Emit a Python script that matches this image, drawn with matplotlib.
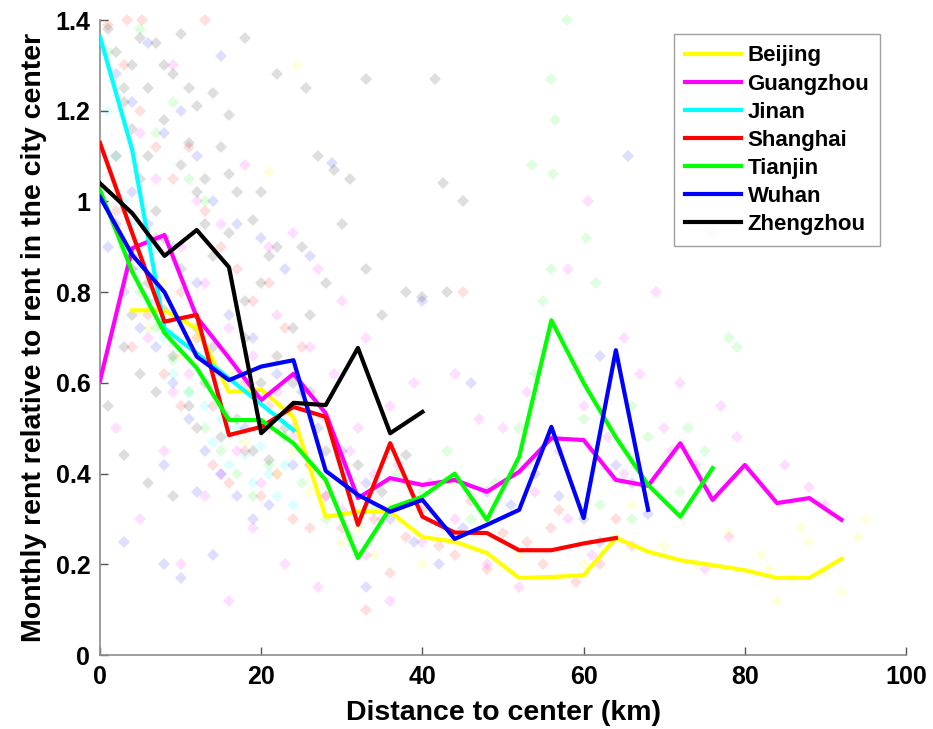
import numpy as np
import matplotlib
matplotlib.use("Agg")
import matplotlib.pyplot as plt

plt.rcParams["font.family"] = ["Liberation Sans", "DejaVu Sans"]
plt.rcParams["font.weight"] = "bold"

# binned averages, every 4 km
beijing_x = np.arange(4, 93, 4)
beijing_y = [0.76, 0.76, 0.72, 0.58, 0.585, 0.525, 0.305, 0.316, 0.316, 0.26, 0.25, 0.225,
             0.17, 0.172, 0.176, 0.258, 0.228, 0.209, 0.198, 0.187, 0.17, 0.17, 0.212]
guangzhou_x = np.arange(0, 93, 4)
guangzhou_y = [0.605, 0.897, 0.926, 0.745, 0.655, 0.562, 0.62, 0.533, 0.346, 0.39, 0.375, 0.386,
               0.36, 0.404, 0.478, 0.474, 0.386, 0.373, 0.467, 0.342, 0.419, 0.335, 0.346, 0.298]
jinan_x = np.arange(0, 25, 4)
jinan_y = [1.363, 1.113, 0.72, 0.665, 0.61, 0.553, 0.496]
shanghai_x = np.arange(0, 65, 4)
shanghai_y = [1.129, 0.93, 0.735, 0.75, 0.485, 0.503, 0.547, 0.525, 0.287, 0.467, 0.305, 0.27,
              0.269, 0.231, 0.231, 0.246, 0.258]
tianjin_x = np.arange(0, 77, 4)
tianjin_y = [1.025, 0.845, 0.71, 0.633, 0.518, 0.518, 0.467, 0.386, 0.214, 0.324, 0.349, 0.4,
             0.298, 0.437, 0.738, 0.6, 0.48, 0.375, 0.305, 0.412]
wuhan_x = np.arange(0, 69, 4)
wuhan_y = [1.01, 0.882, 0.8, 0.658, 0.606, 0.636, 0.65, 0.406, 0.353, 0.316, 0.342, 0.256,
           0.287, 0.32, 0.503, 0.302, 0.672, 0.32]
zhengzhou_x = np.arange(0, 41, 4)
zhengzhou_y = [1.04, 0.974, 0.88, 0.937, 0.855, 0.489, 0.556, 0.551, 0.677, 0.489, 0.536]

beijing_pts = [(4, 0.9), (8, 0.82), (12, 0.7), (16, 0.62), (20, 0.5), (24, 0.45), (28, 0.38),
               (32, 0.28), (36, 0.33), (40, 0.2), (44, 0.25), (48, 0.3), (52, 0.22), (56, 0.28),
               (60, 0.2), (64, 0.26), (66, 0.33), (70, 0.24), (74, 0.2), (78, 0.27), (82, 0.22),
               (84, 0.12), (86, 0.17), (88, 0.25), (90, 0.18), (92, 0.14), (94, 0.26), (95, 0.3),
               (87, 0.28), (83, 0.19), (24.4, 1.3), (21, 1.065), (6, 0.72), (10, 0.66),
               (14, 0.55), (18, 0.47), (22, 0.4), (26, 0.36), (30, 0.25), (34, 0.22)]
guangzhou_pts = [(3, 1.25), (5, 1.15), (7, 1.05), (9, 1.3), (12, 1.0), (15, 0.95), (18, 1.08),
                 (21, 0.9), (24, 0.93), (27, 0.85), (30, 0.78), (22, 0.75), (26, 0.68), (29, 0.62),
                 (33, 0.7), (36, 0.55), (39, 0.6), (44, 0.62), (47, 0.52), (50, 0.5), (53, 0.58),
                 (57, 0.45), (58, 0.85), (60, 0.55), (63, 0.48), (65, 0.7), (67, 0.62), (69, 0.8),
                 (70, 0.5), (72, 0.6), (74, 0.42), (77, 0.55), (79, 0.48), (71, 0.45), (65, 0.4),
                 (85, 0.42), (88, 0.37), (90, 0.33), (2, 0.5), (5, 0.3), (8, 0.45), (10, 0.2),
                 (13, 0.35), (16, 0.12), (19, 0.28), (23, 0.2), (27, 0.15), (30, 0.32), (33, 0.22),
                 (36, 0.12), (40, 0.25), (44, 0.3), (48, 0.2), (52, 0.15), (56, 0.28), (58, 0.3),
                 (61, 0.22), (75, 0.19), (78, 0.26), (6, 0.7), (11, 0.62), (14, 0.55), (17, 0.45),
                 (20, 0.38), (24, 0.48), (28, 0.35), (35, 0.3), (60.5, 1.0), (76, 0.93),
                 (4, 0.85), (7, 0.78), (10, 0.9), (13, 0.82), (16, 0.72), (19, 0.66), (22, 0.58),
                 (25, 0.55), (28, 0.52), (31, 0.45), (34, 0.4), (37, 0.42), (41, 0.38),
                 (9, 0.58), (15, 0.4), (21, 0.5), (26, 0.42), (32, 0.5), (46, 0.35), (54, 0.36)]
jinan_pts = [(1, 1.2), (2, 1.1), (3, 1.0), (4, 0.95), (5, 0.85), (6, 0.78), (7, 0.9), (8, 0.7),
             (9, 0.62), (10, 0.68), (11, 0.58), (12, 0.5), (13, 0.55), (14, 0.47), (15, 0.52),
             (16, 0.42), (17, 0.5), (18, 0.44), (19, 0.38), (20, 0.46), (21, 0.4), (22, 0.35),
             (23, 0.42), (24, 0.33)]
shanghai_pts = [(1, 1.39), (3, 1.3), (5, 1.2), (7, 1.12), (9, 1.05), (11, 1.12), (13, 0.98),
                (15, 0.9), (17, 0.85), (19, 0.78), (21, 0.82), (23, 0.72), (25, 0.68), (2, 0.98),
                (4, 0.85), (6, 0.75), (8, 0.62), (10, 0.55), (12, 0.5), (14, 0.42), (16, 0.38),
                (18, 0.45), (20, 0.35), (22, 0.4), (24, 0.3), (26, 0.42), (28, 0.35), (30, 0.28),
                (32, 0.22), (34, 0.3), (36, 0.18), (38, 0.26), (40, 0.32), (42, 0.24), (44, 0.22),
                (46, 0.34), (48, 0.19), (50, 0.27), (53, 0.25), (55, 0.2), (57, 0.32), (59, 0.16),
                (62, 0.2), (64, 0.3), (66, 0.24), (45, 0.8), (26, 0.28), (33, 0.1), (13, 1.4),
                (3.4, 1.4), (5.2, 1.4), (4, 0.68), (7, 0.92), (10, 0.8), (12, 0.7), (15, 0.62),
                (18, 0.6), (21, 0.55), (24, 0.5)]
tianjin_pts = [(1, 1.33), (3, 1.25), (5, 1.38), (7, 1.15), (9, 1.22), (11, 1.05), (13, 1.0),
               (3, 0.9), (5, 0.8), (7, 0.72), (9, 0.65), (11, 0.58), (13, 0.5), (15, 0.45),
               (17, 0.4), (19, 0.35), (21, 0.42), (23, 0.48), (25, 0.38), (28, 0.3), (31, 0.26),
               (34, 0.32), (37, 0.4), (40, 0.36), (43, 0.45), (46, 0.3), (49, 0.38), (52, 0.5),
               (54, 0.62), (55, 0.78), (56.5, 1.18), (56, 1.27), (57.9, 1.4), (53.6, 1.08),
               (56.2, 1.06), (60.3, 0.92), (56, 0.85), (61.5, 0.82), (64, 0.65), (66, 0.55),
               (68, 0.48), (70, 0.42), (72, 0.36), (75, 0.45), (78, 0.7), (79, 0.68), (73, 0.5),
               (60, 0.52), (62, 0.33), (66, 0.3)]
wuhan_pts = [(2, 1.28), (4, 1.22), (6, 1.35), (8, 1.15), (10, 1.2), (12, 1.1), (14, 1.0),
             (17, 0.95), (20, 0.92), (23, 0.85), (26, 0.88), (15, 1.32), (1, 0.9), (3, 0.8),
             (5, 0.72), (7, 0.68), (9, 0.6), (11, 0.52), (13, 0.45), (15, 0.4), (17, 0.35),
             (19, 0.3), (21, 0.33), (24, 0.42), (27, 0.5), (30, 0.45), (33, 0.38), (36, 0.3),
             (39, 0.25), (42, 0.2), (45, 0.28), (48, 0.36), (51, 0.33), (54, 0.4), (57, 0.35),
             (60, 0.3), (62, 0.25), (64, 0.42), (66, 0.38), (68, 0.31), (3, 0.25), (8, 0.2),
             (10, 0.17), (14, 0.22), (33, 0.15), (40, 0.78), (46, 0.6), (65.5, 1.1), (28.8, 1.085),
             (62, 0.66), (4, 1.02), (6, 0.95), (9, 0.9), (12, 0.82), (16, 0.75), (19, 0.7),
             (22, 0.62), (25, 0.58), (8, 0.42), (12, 0.36), (18, 0.5)]
zhengzhou_pts = [(1, 1.38), (2, 1.33), (3, 1.22), (4, 1.30), (5, 1.36), (6, 1.25), (7, 1.35),
                 (8, 1.18), (9, 1.28), (10, 1.37), (11, 1.13), (12, 1.21), (13, 1.05), (14, 1.24),
                 (16, 1.19), (18, 1.36), (20, 1.02), (22, 1.28), (25.5, 1.25), (27, 1.10),
                 (29, 1.07), (31, 1.05), (33, 1.27), (41.5, 1.27), (42.5, 1.04), (45, 1.0),
                 (25, 0.9), (28, 0.82), (30, 0.95), (33, 0.85), (35, 0.75), (38, 0.8), (40, 0.79),
                 (43, 0.8), (2, 0.95), (4, 0.88), (6, 0.82), (8, 0.76), (10, 0.85), (12, 0.72),
                 (14, 0.68), (16, 0.93), (18, 0.78), (20, 0.6), (22, 0.66), (24, 0.72), (3, 0.68),
                 (5, 0.62), (7, 0.58), (9, 0.66), (11, 0.55), (13, 0.6), (15, 0.48), (17, 0.52),
                 (19, 0.45), (21, 0.43), (23, 0.5), (26, 0.58), (28, 0.45), (32, 0.42), (35, 0.36),
                 (38, 0.44), (1, 0.55), (3, 0.44), (6, 0.38), (9, 0.35), (2, 1.1), (5, 1.05),
                 (7, 0.98), (10, 1.08), (13, 0.95), (15, 1.12), (17, 1.02), (19, 0.96), (21, 0.88),
                 (4, 1.16), (6, 1.1), (8, 1.3), (11, 1.25), (12, 1.02), (14, 0.88), (16, 1.06),
                 (18, 0.7), (20, 0.82), (22, 0.9), (24, 0.6), (26, 0.75), (4, 0.75), (8, 0.92)]

cities = ["Beijing", "Guangzhou", "Jinan", "Shanghai", "Tianjin", "Wuhan", "Zhengzhou"]
colors = ["#ffff00", "#ff00ff", "#00ffff", "#ff0000", "#00ff00", "#0000ff", "#000000"]
lines = [(beijing_x, beijing_y), (guangzhou_x, guangzhou_y), (jinan_x, jinan_y),
         (shanghai_x, shanghai_y), (tianjin_x, tianjin_y), (wuhan_x, wuhan_y),
         (zhengzhou_x, zhengzhou_y)]
points = [beijing_pts, guangzhou_pts, jinan_pts, shanghai_pts, tianjin_pts, wuhan_pts,
          zhengzhou_pts]

fig = plt.figure(figsize=(9.33, 7.29), dpi=100)
ax = fig.add_axes([0.1072, 0.1015, 0.8639, 0.871])

for pts, c in zip(points, colors):
    px, py = np.array(pts).T
    ax.plot(px, py, "D", color=c, alpha=0.13, markersize=6.5, markeredgewidth=0,
            clip_on=False, zorder=1)

for (lx, ly), c, name in zip(lines, colors, cities):
    ax.plot(lx, ly, color=c, linewidth=3, label=name, zorder=3)

ax.set_xlim(0, 100)
ax.set_ylim(0, 1.4)
ax.set_xticks([0, 20, 40, 60, 80, 100])
ax.set_yticks([0, 0.2, 0.4, 0.6, 0.8, 1, 1.2, 1.4])
ax.set_yticklabels(["0", "0.2", "0.4", "0.6", "0.8", "1", "1.2", "1.4"])
for s in ["top", "right"]:
    ax.spines[s].set_visible(False)
for s in ["left", "bottom"]:
    ax.spines[s].set_color("#8c8c8c")
    ax.spines[s].set_linewidth(1.2)
ax.tick_params(direction="in", length=6, width=1, color="#555555",
               labelsize=18, pad=7)
ax.set_xlabel("Distance to center (km)", fontsize=20.5, fontweight="bold", labelpad=8)
ax.set_ylabel("Monthly rent relative to rent in the city center", fontsize=20.5,
              fontweight="bold", labelpad=6)

leg = ax.legend(loc="upper right", bbox_to_anchor=(0.982, 0.995), fontsize=16,
                frameon=True, fancybox=False, handlelength=2.5, handletextpad=0.3,
                labelspacing=0.32, borderpad=0.5)
leg.get_frame().set_edgecolor("#888888")
leg.get_frame().set_linewidth(1.0)
for t in leg.get_texts():
    t.set_fontweight("bold")

fig.savefig("out.png", dpi=100)
